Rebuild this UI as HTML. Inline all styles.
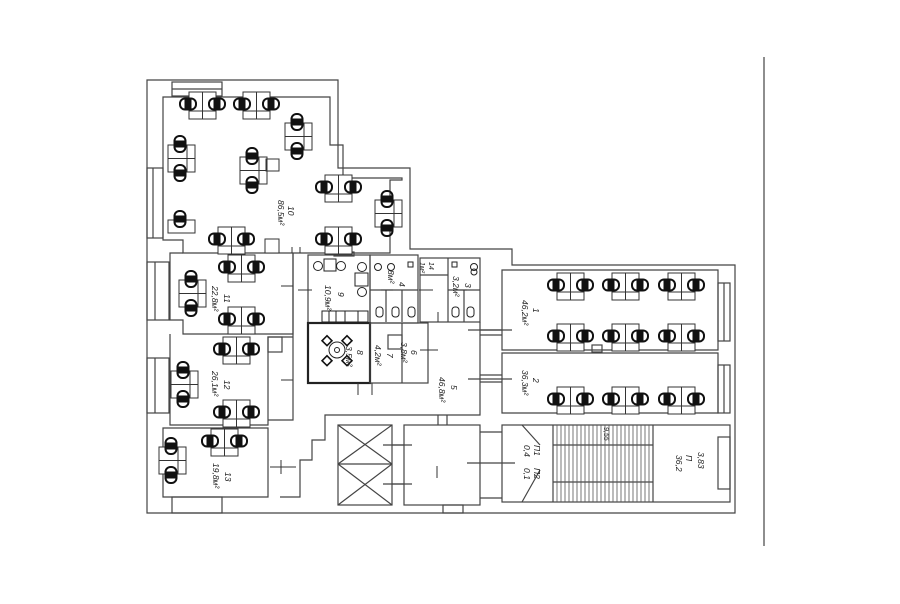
<!DOCTYPE html>
<html><head><meta charset="utf-8"><style>
html,body{margin:0;padding:0;background:#fff;}
svg{display:block;}
text{font-family:"Liberation Sans",sans-serif;font-style:italic;fill:#222;}
</style></head><body>
<svg width="900" height="604" viewBox="0 0 900 604" xmlns="http://www.w3.org/2000/svg">
<defs>
<g id="ch">
<rect x="-8" y="-5.5" width="16" height="11" rx="5" fill="none" stroke="#111" stroke-width="2"/>
<rect x="-3.5" y="-4.5" width="7" height="9" fill="#111"/>
</g>
<g id="hp">
<rect x="0" y="0" width="27" height="27" fill="#fff" stroke="#333" stroke-width="1"/>
<line x1="13.5" y1="0" x2="13.5" y2="27" stroke="#333"/>
<line x1="0" y1="19" x2="27" y2="19" stroke="#333"/>
<use href="#ch" x="-1" y="12"/>
<use href="#ch" x="28" y="12"/>
</g>
<g id="vp">
<rect x="0" y="0" width="27" height="27" fill="#fff" stroke="#333" stroke-width="1"/>
<line x1="0" y1="13.5" x2="27" y2="13.5" stroke="#333"/>
<line x1="19" y1="0" x2="19" y2="27" stroke="#333"/>
<g transform="translate(12,-1) rotate(90)"><use href="#ch"/></g>
<g transform="translate(12,28) rotate(90)"><use href="#ch"/></g>
</g>
</defs>
<g fill="none" stroke="#444" stroke-width="1.2">
<path d="M147 80 H338 V168 H410 V249 H512 V265 H735 V513 H147 Z"/>
<path d="M163 97 V240 H183 V253 H390 V180 H402 V178 H343 V145 H330 V97 Z" />
<rect x="172" y="82" width="50" height="14"/>
<line x1="172" y1="89" x2="222" y2="89"/>
<rect x="147" y="168" width="16" height="70"/><rect x="147" y="262" width="22" height="58"/>
<rect x="147" y="358" width="22" height="55"/><rect x="172" y="497" width="50" height="16"/>
<line x1="153" y1="168" x2="153" y2="238"/><line x1="155" y1="262" x2="155" y2="320"/><line x1="155" y1="358" x2="155" y2="413"/>
<path d="M183 253 H170 V262 H170 V320 L183 320 V334 H293 V253"/>
<path d="M170 334 V425 H268 V337 H293"/>
<rect x="268" y="337" width="14" height="15"/>
<path d="M163 428 H268 V497 H163 Z"/>
<path d="M293 253 V420 H268"/>
<path d="M280 497 H300 V460 H312 V440 H325 V415 H480 V322"/>
<rect x="308" y="255" width="62" height="68"/>
<rect x="308" y="323" width="62" height="60" stroke="#222" stroke-width="2.2"/>
<rect x="370" y="255" width="48" height="68"/>
<rect x="420" y="258" width="60" height="64"/>
<line x1="448" y1="258" x2="448" y2="322"/><line x1="420" y1="275" x2="448" y2="275"/>
<line x1="370" y1="290" x2="418" y2="290"/><line x1="448" y1="290" x2="480" y2="290"/>
<line x1="386" y1="290" x2="386" y2="322"/><line x1="402" y1="290" x2="402" y2="322"/>
<line x1="464" y1="290" x2="464" y2="322"/>
<rect x="370" y="323" width="58" height="60"/><line x1="402" y1="323" x2="402" y2="383"/>
<rect x="388" y="335" width="14" height="14"/>
<rect x="334" y="252" width="20" height="4"/>
<path d="M502 270 H718 V350 H502 Z"/>
<path d="M502 353 H718 V413 H502 Z"/>
<rect x="718" y="283" width="12" height="58"/><rect x="718" y="365" width="12" height="48"/>
<line x1="724" y1="283" x2="724" y2="341"/><line x1="724" y1="365" x2="724" y2="413"/>
<rect x="592" y="345" width="10" height="7"/>
<line x1="480" y1="330" x2="502" y2="330"/><line x1="480" y1="335" x2="502" y2="335"/>
<line x1="480" y1="375" x2="502" y2="375"/><line x1="480" y1="382" x2="502" y2="382"/>
<line x1="468" y1="330" x2="512" y2="330"/><line x1="468" y1="379" x2="512" y2="379"/>
<rect x="338" y="425" width="54" height="80"/><line x1="338" y1="464" x2="392" y2="464"/>
<line x1="338" y1="425" x2="392" y2="464"/><line x1="392" y1="425" x2="338" y2="464"/>
<line x1="338" y1="464" x2="392" y2="505"/><line x1="392" y1="464" x2="338" y2="505"/>
<rect x="404" y="425" width="76" height="80"/>
<line x1="392" y1="445" x2="404" y2="445"/><line x1="392" y1="484" x2="404" y2="484"/>
<line x1="383" y1="445" x2="412" y2="445"/><line x1="383" y1="484" x2="412" y2="484"/>
<line x1="480" y1="432" x2="502" y2="432"/><line x1="480" y1="498" x2="502" y2="498"/>
<line x1="467" y1="463" x2="515" y2="463"/>
<line x1="438" y1="415" x2="438" y2="425"/><line x1="447" y1="415" x2="447" y2="425"/>
<rect x="443" y="505" width="20" height="8"/>
<rect x="502" y="425" width="228" height="77"/>
<rect x="718" y="437" width="12" height="52"/>
<line x1="553" y1="425" x2="553" y2="502"/><line x1="653" y1="425" x2="653" y2="502"/>
<path d="M553 445 H653 M553 482 H653"/>
<path d="M522 425 L540 445 M522 502 L540 470"/>
</g>
<g stroke="#555" stroke-width="0.8">
<path d="M557 425V502M561 425V502M565 425V502M569 425V502M573 425V502M577 425V502M581 425V502M585 425V502M589 425V502M593 425V502M597 425V502M601 425V502M605 425V502M609 425V502M613 425V502M617 425V502M621 425V502M625 425V502M629 425V502M633 425V502M637 425V502M641 425V502M645 425V502M649 425V502"/>
</g>
<line x1="764" y1="57" x2="764" y2="546" stroke="#444" stroke-width="1.2"/>
<g stroke="#333" stroke-width="1">
<path d="M293 286 h-12 M293 380 h-12 M312 290 h-14 M270 467 h26 M281 460 v14 M358 383 v12 M372 383 v12 M438 322 v-10 M420 350 h18"/>
<path d="M437 478 v-12 M433 290 h-14 M453 290 h14 M381 290 h12 M292 253 v-6 M300 253 v-6"/>
</g>
<g>
<use href="#hp" x="189" y="92"/><use href="#hp" x="243" y="92"/>
<use href="#vp" x="285" y="123"/><use href="#vp" x="168" y="145"/>
<use href="#vp" x="240" y="157"/><rect x="266" y="159" width="13" height="12" fill="none" stroke="#333"/>
<use href="#hp" x="325" y="175"/><use href="#vp" x="375" y="200"/>
<rect x="168" y="220" width="27" height="13" fill="none" stroke="#333"/><g transform="translate(180,219) rotate(90)"><use href="#ch"/></g>
<use href="#hp" x="218" y="227"/><use href="#hp" x="325" y="227"/>
<rect x="265" y="239" width="14" height="14" fill="#fff" stroke="#333"/>
<use href="#hp" x="228" y="255"/><use href="#vp" x="179" y="280"/><use href="#hp" x="228" y="307"/>
<use href="#hp" x="223" y="337"/><use href="#vp" x="171" y="371"/><use href="#hp" x="223" y="400"/>
<use href="#hp" x="211" y="429"/><use href="#vp" x="159" y="447"/>
<use href="#hp" x="557" y="273"/><use href="#hp" x="612" y="273"/><use href="#hp" x="668" y="273"/>
<use href="#hp" x="557" y="324"/><use href="#hp" x="612" y="324"/><use href="#hp" x="668" y="324"/>
<use href="#hp" x="557" y="387"/><use href="#hp" x="612" y="387"/><use href="#hp" x="668" y="387"/>
</g>
<g fill="none" stroke="#222" stroke-width="1">
<circle cx="318" cy="266" r="4.5"/><circle cx="341" cy="266" r="4.5"/><circle cx="362" cy="267" r="4.5"/><circle cx="362" cy="292" r="4.5"/>
<rect x="324" y="259" width="12" height="12"/><rect x="355" y="273" width="13" height="13"/>
<rect x="322" y="311" width="46" height="11"/><path d="M329 311v11M336 311v11M345 311v11M358 311v11"/>
<circle cx="337" cy="350" r="8"/><circle cx="337" cy="350" r="2.5"/>
<circle cx="378" cy="267" r="3.5"/><circle cx="391" cy="267" r="3.5"/><circle cx="474" cy="267" r="3.5"/><circle cx="474" cy="272" r="3"/>
<rect x="408" y="262" width="5" height="5"/><rect x="452" y="262" width="5" height="5"/>
<rect x="376" y="307" width="7" height="10" rx="3"/><rect x="392" y="307" width="7" height="10" rx="3"/><rect x="408" y="307" width="7" height="10" rx="3"/>
<rect x="452" y="307" width="7" height="10" rx="3"/><rect x="467" y="307" width="7" height="10" rx="3"/>
</g>
<g fill="#fff" stroke="#111" stroke-width="1.6">
<rect x="324" y="337" width="7" height="7" transform="rotate(45 327 340)"/><rect x="344" y="337" width="7" height="7" transform="rotate(45 347 340)"/>
<rect x="324" y="357" width="7" height="7" transform="rotate(45 327 360)"/><rect x="344" y="357" width="7" height="7" transform="rotate(45 347 360)"/>
</g>
<g font-size="8.5">
<text transform="translate(278,200) rotate(90)">86,5м²</text><text transform="translate(288,206) rotate(90)">10</text>
<text transform="translate(212,286) rotate(90)">22,8м²</text><text transform="translate(224,294) rotate(90)">11</text>
<text transform="translate(212,371) rotate(90)">26,1м²</text><text transform="translate(224,380) rotate(90)">12</text>
<text transform="translate(213,463) rotate(90)">19,8м²</text><text transform="translate(225,472) rotate(90)">13</text>
<text transform="translate(325,285) rotate(90)">10,9м²</text><text transform="translate(338,292) rotate(90)">9</text>
<text transform="translate(346,346) rotate(90)">3,5м²</text><text transform="translate(357,350) rotate(90)">8</text>
<text transform="translate(375,345) rotate(90)">4,2м²</text><text transform="translate(387,353) rotate(90)">7</text>
<text transform="translate(401,342) rotate(90)">3,8м²</text><text transform="translate(411,350) rotate(90)">6</text>
<text transform="translate(388,270) rotate(90)">8м²</text><text transform="translate(399,282) rotate(90)">4</text>
<text transform="translate(420,262) rotate(90)" font-size="7">1м²</text><text transform="translate(429,262) rotate(90)" font-size="7">14</text>
<text transform="translate(453,276) rotate(90)">3,2м²</text><text transform="translate(465,283) rotate(90)">3</text>
<text transform="translate(439,377) rotate(90)">46,8м²</text><text transform="translate(451,385) rotate(90)">5</text>
<text transform="translate(522,300) rotate(90)">46,2м²</text><text transform="translate(533,308) rotate(90)">1</text>
<text transform="translate(522,370) rotate(90)">36,3м²</text><text transform="translate(533,378) rotate(90)">2</text>
<text transform="translate(524,445) rotate(90)">0,4</text><text transform="translate(534,445) rotate(90)">П1</text>
<text transform="translate(524,468) rotate(90)">0,1</text><text transform="translate(534,468) rotate(90)">П2</text>
<text transform="translate(676,455) rotate(90)">36,2</text><text transform="translate(686,455) rotate(90)">П</text><text transform="translate(698,452) rotate(90)">3,83</text>
<text transform="translate(604,427) rotate(90)" font-size="7">9,55</text>
</g>
</svg>
</body></html>
